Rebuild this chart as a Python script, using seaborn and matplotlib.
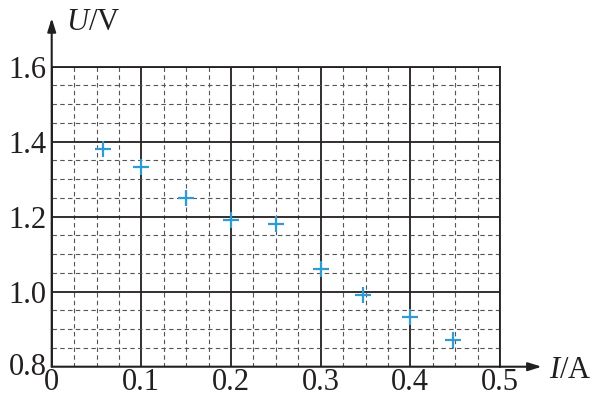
import matplotlib
matplotlib.use('Agg')
import matplotlib.pyplot as plt
import matplotlib.transforms as mtransforms
from matplotlib.ticker import MultipleLocator
import pandas as pd
import seaborn as sns

# Measured points (I in A, U in V)
current = [0.057, 0.10, 0.15, 0.20, 0.25, 0.30, 0.347, 0.40, 0.448]
voltage = [1.38, 1.333, 1.25, 1.19, 1.18, 1.06, 0.99, 0.933, 0.871]
x_ticks = [0, 0.1, 0.2, 0.3, 0.4, 0.5]
x_tick_labels = ['0', '0.1', '0.2', '0.3', '0.4', '0.5']
y_ticks = [0.8, 1.0, 1.2, 1.4, 1.6]
y_tick_labels = ['0.8', '1.0', '1.2', '1.4', '1.6']

df = pd.DataFrame({'I': current, 'U': voltage})

sns.set_style('white')
plt.rcParams['font.family'] = ['Liberation Serif', 'DejaVu Serif']
plt.rcParams['mathtext.fontset'] = 'custom'
plt.rcParams['mathtext.rm'] = 'Liberation Serif'
plt.rcParams['mathtext.it'] = 'Liberation Serif:italic'

fig = plt.figure(figsize=(5.93, 3.98), dpi=100)
ax = fig.add_axes([0.0872, 0.0786, 0.756, 0.7538])

ax.set_xlim(0, 0.5)
ax.set_ylim(0.8, 1.6)

# grid: solid major, dashed minor
ax.xaxis.set_major_locator(MultipleLocator(0.1))
ax.yaxis.set_major_locator(MultipleLocator(0.2))
ax.xaxis.set_minor_locator(MultipleLocator(0.025))
ax.yaxis.set_minor_locator(MultipleLocator(0.05))
ax.grid(which='minor', color='#555555', linestyle=(0, (4, 3)), linewidth=0.8)
ax.grid(which='major', color='#231f20', linestyle='-', linewidth=1.3)
ax.set_axisbelow(True)

sns.scatterplot(data=df, x='I', y='U', marker='+', s=130, color='#2f9bd3',
                linewidth=1.6, ax=ax, zorder=5, clip_on=False)

ax.set_xticks(x_ticks)
ax.set_xticklabels(x_tick_labels)
ax.set_yticks(y_ticks)
ax.set_yticklabels(y_tick_labels)
ax.tick_params(axis='both', which='both', length=0, labelsize=22, colors='#231f20')
ax.tick_params(axis='x', pad=1)
ax.tick_params(axis='y', pad=3.5)
ax.set_xlabel('')
ax.set_ylabel('')

# lift the corner "0.8" a little, as in the original
lbl = ax.get_yticklabels()[0]
lbl.set_transform(lbl.get_transform() + mtransforms.ScaledTranslation(0, 3 / 100, fig.dpi_scale_trans))

for side in ['top', 'right']:
    ax.spines[side].set_color('#231f20')
    ax.spines[side].set_linewidth(1.3)
for side in ['left', 'bottom']:
    ax.spines[side].set_visible(False)

# axis arrows
arrow = dict(arrowstyle='-|>,head_length=0.8,head_width=0.25', color='#231f20',
             lw=1.5, shrinkA=0, shrinkB=0)
ax.annotate('', xy=(1.093, 0), xytext=(0, 0), xycoords='axes fraction',
            arrowprops=arrow, annotation_clip=False)
ax.annotate('', xy=(0, 1.162), xytext=(0, 0), xycoords='axes fraction',
            arrowprops=arrow, annotation_clip=False)

fig.text(66 / 593, 1 - 23 / 398, '$U$/V', fontsize=22, color='#231f20',
         ha='left', va='center')
fig.text(549 / 593, 1 - 370 / 398, '$I$/A', fontsize=22, color='#231f20',
         ha='left', va='center')

fig.savefig('out.png', dpi=100)
